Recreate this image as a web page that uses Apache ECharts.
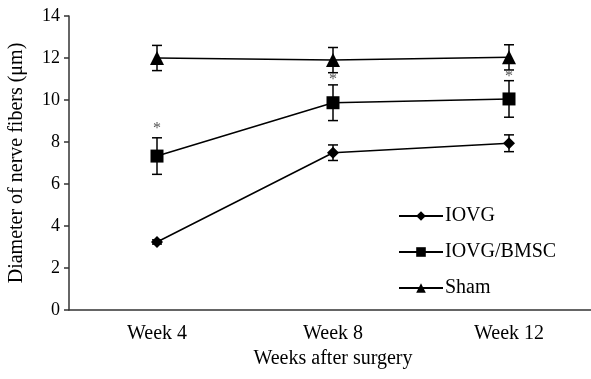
<!DOCTYPE html>
<html><head><meta charset="utf-8">
<script src="https://cdn.jsdelivr.net/npm/echarts@6/dist/echarts.min.js"></script>
<style>html,body{margin:0;padding:0;background:#fff}#c{width:591px;height:379px}</style>
</head><body><div id="c"></div>
<script>
const categories = ['Week 4', 'Week 8', 'Week 12'];
const iovg = [3.24, 7.49, 7.94];
const iovgErr = [0.1, 0.37, 0.4];
const bmsc = [7.33, 9.87, 10.05];
const bmscErr = [0.87, 0.85, 0.87];
const sham = [12.0, 11.9, 12.03];
const shamErr = [0.6, 0.6, 0.6];
const asteriskY = [8.73, 11.08, 11.22];
const yTicks = [0, 2, 4, 6, 8, 10, 12, 14];

const FONT = '"Liberation Serif", "DejaVu Serif", serif';
const chart = echarts.init(document.getElementById('c'));

function errSeries(vals, errs) {
  return {
    type: 'custom', silent: true, z: 1,
    data: vals.map((v, i) => [i, v - errs[i], v + errs[i]]),
    renderItem: function (params, api) {
      const x = api.value(0);
      const lo = api.coord([x, api.value(1)]);
      const hi = api.coord([x, api.value(2)]);
      const w = 5;
      const st = { stroke: '#000', lineWidth: 1.5 };
      return { type: 'group', children: [
        { type: 'line', shape: { x1: lo[0], y1: lo[1], x2: hi[0], y2: hi[1] }, style: st },
        { type: 'line', shape: { x1: lo[0] - w, y1: lo[1], x2: lo[0] + w, y2: lo[1] }, style: st },
        { type: 'line', shape: { x1: hi[0] - w, y1: hi[1], x2: hi[0] + w, y2: hi[1] }, style: st }
      ]};
    }
  };
}

function lineSeries(name, vals, symbol, size) {
  return {
    name: name, type: 'line', data: vals, symbol: symbol, symbolSize: size,
    lineStyle: { color: '#000', width: 1.5 }, itemStyle: { color: '#000' }, z: 3
  };
}

chart.setOption({
  animation: false,
  grid: { left: 69, top: 16, bottom: 69, width: 528, outerBoundsMode: 'none', containLabel: false },
  legend: {
    data: ['IOVG', 'IOVG/BMSC', 'Sham'], orient: 'vertical', left: 393, top: 201,
    itemWidth: 44, itemHeight: 12, itemGap: 16,
    textStyle: { fontFamily: FONT, fontSize: 20, color: '#000', padding: [0, 0, 0, -3] }
  },
  xAxis: {
    type: 'category', data: categories,
    axisLine: { lineStyle: { color: '#333', width: 1.5 } },
    axisTick: { show: false },
    axisLabel: { fontFamily: FONT, fontSize: 20, color: '#000', margin: 14 },
    name: 'Weeks after surgery', nameLocation: 'middle', nameGap: 37,
    nameTextStyle: { fontFamily: FONT, fontSize: 20, color: '#000' }
  },
  yAxis: {
    type: 'value', min: 0, max: 14, interval: 2,
    splitLine: { show: false },
    axisLine: { show: true, lineStyle: { color: '#333', width: 1.5 } },
    axisTick: { show: true, length: 5, lineStyle: { color: '#333', width: 1.5 } },
    axisLabel: { fontFamily: FONT, fontSize: 18, color: '#000', margin: 9,
      formatter: v => yTicks.includes(v) ? String(v) : '' },
    name: 'Diameter of nerve fibers (μm)', nameLocation: 'middle', nameGap: 42,
    nameTextStyle: { fontFamily: FONT, fontSize: 20, color: '#000' }
  },
  series: [
    lineSeries('IOVG', iovg, 'diamond', 12),
    lineSeries('IOVG/BMSC', bmsc, 'rect', 13),
    lineSeries('Sham', sham, 'triangle', 14),
    errSeries(iovg, iovgErr),
    errSeries(bmsc, bmscErr),
    errSeries(sham, shamErr),
    {
      type: 'custom', silent: true, z: 2,
      data: asteriskY.map((v, i) => [i, v]),
      renderItem: function (params, api) {
        const p = api.coord([api.value(0), api.value(1)]);
        return { type: 'text', x: p[0], y: p[1] + 2, style: { text: '*', fontFamily: FONT, fontSize: 16, fill: '#555', align: 'center', verticalAlign: 'middle' } };
      }
    }
  ]
});
</script></body></html>
